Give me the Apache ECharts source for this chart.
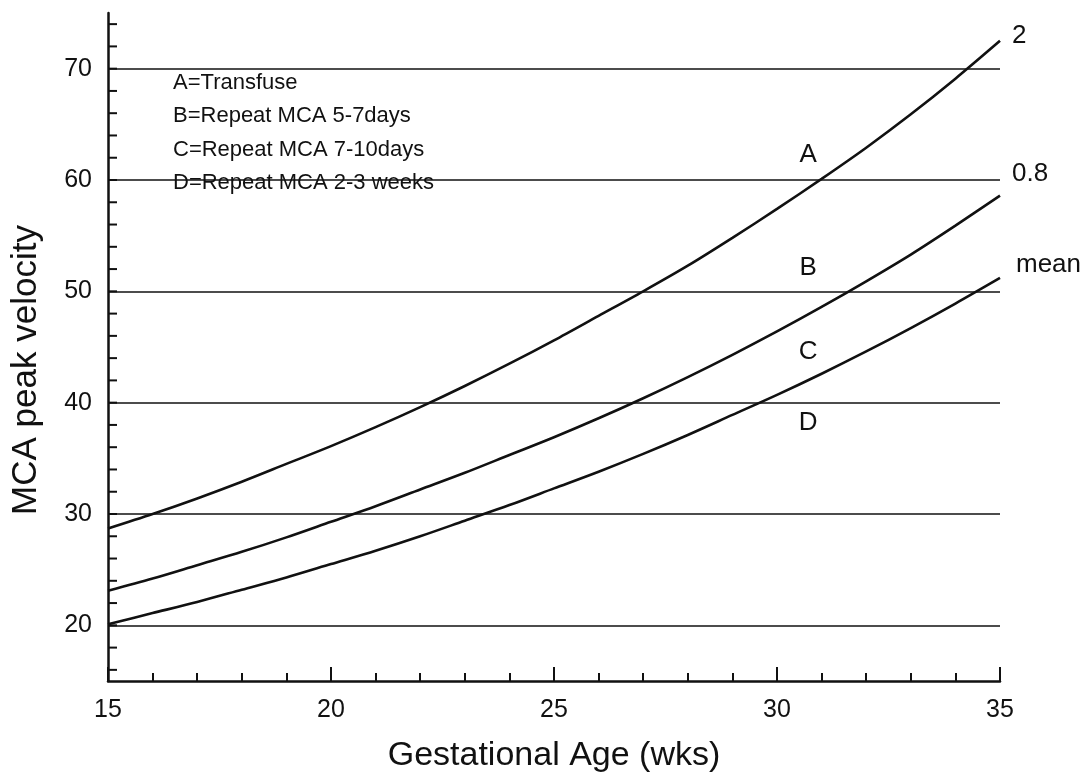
<!DOCTYPE html>
<html>
<head>
<meta charset="utf-8">
<script src="https://cdn.jsdelivr.net/npm/echarts@6/dist/echarts.min.js"></script>
<style>
  html, body { margin: 0; padding: 0; background: #ffffff; }
  #chart { width: 1088px; height: 778px; }
</style>
</head>
<body>
<div id="chart"></div>
<script>
// Gestational age (weeks)
const weeks = [15, 16, 17, 18, 19, 20, 21, 22, 23, 24, 25, 26, 27, 28, 29, 30, 31, 32, 33, 34, 35];
// Upper curve (labelled "2")
const curveTop = [28.7, 30.0, 31.4, 32.9, 34.5, 36.1, 37.8, 39.6, 41.5, 43.5, 45.6, 47.8, 50.0, 52.3, 54.8, 57.4, 60.1, 62.9, 65.9, 69.1, 72.5];
// Middle curve (labelled "0.8")
const curveMid = [23.1, 24.2, 25.4, 26.6, 27.9, 29.3, 30.7, 32.2, 33.7, 35.3, 36.9, 38.6, 40.4, 42.3, 44.3, 46.4, 48.6, 50.9, 53.3, 55.9, 58.6];
// Lower curve (labelled "mean")
const curveMean = [20.1, 21.1, 22.1, 23.2, 24.3, 25.5, 26.7, 28.0, 29.4, 30.8, 32.3, 33.8, 35.4, 37.1, 38.9, 40.7, 42.6, 44.6, 46.7, 48.9, 51.2];
const curveNames = ['2', '0.8', 'mean'];

// Horizontal reference lines
const gridValues = [20, 30, 40, 50, 60, 70];
// Y-axis small tick marks
const yTickValues = [16, 18, 20, 22, 24, 26, 28, 30, 32, 34, 36, 38, 40, 42, 44, 46, 48, 50, 52, 54, 56, 58, 60, 62, 64, 66, 68, 70, 72, 74];

// Zone letters
const zoneLetters = ['A', 'B', 'C', 'D'];
const zoneLetterX = [30.7, 30.7, 30.7, 30.7];
const zoneLetterY = [62.3, 52.1, 44.6, 38.2];

// Key text
const keyLines = ['A=Transfuse', 'B=Repeat MCA 5-7days', 'C=Repeat MCA 7-10days', 'D=Repeat MCA 2-3 weeks'];

const X_MIN = 15, X_MAX = 35, Y_MIN = 15, Y_MAX = 75;
const INK = '#111111';
const FONT = '"Liberation Sans", Arial, Helvetica, sans-serif';

const chart = echarts.init(document.getElementById('chart'), null, { renderer: 'canvas' });

function pairs(ys) { return weeks.map((w, i) => [w, ys[i]]); }

const endOffsets = [[4, -5], [4, -22], [8, -13]];
const curves = [curveTop, curveMid, curveMean];

const lineSeries = curves.map((c, i) => ({
  type: 'line',
  name: curveNames[i],
  data: pairs(c),
  smooth: 0.3,
  symbol: 'none',
  silent: true,
  lineStyle: { color: INK, width: 2.6 },
  endLabel: {
    show: true,
    formatter: curveNames[i],
    color: INK,
    fontSize: 26,
    fontFamily: FONT,
    offset: endOffsets[i]
  },
  z: 5
}));

const option = {
  backgroundColor: '#ffffff',
  animation: false,
  title: {
    text: keyLines.join('\n'),
    left: 168,
    top: 61,
    textStyle: { color: INK, fontSize: 22, fontWeight: 'normal', fontFamily: FONT, lineHeight: 33.5 }
  },
  grid: { left: 108, right: 88, top: 13, bottom: 96, containLabel: false },
  xAxis: {
    type: 'value',
    min: X_MIN, max: X_MAX, interval: 5,
    name: 'Gestational Age (wks)',
    nameLocation: 'middle',
    nameGap: 58,
    nameTextStyle: { color: INK, fontSize: 34, fontFamily: FONT },
    axisLine: { show: true, lineStyle: { color: INK, width: 2.5 } },
    axisTick: { show: true, inside: true, length: 14, lineStyle: { color: INK, width: 2 } },
    minorTick: { show: true, splitNumber: 5, length: 8, lineStyle: { color: INK, width: 2 } },
    axisLabel: { color: INK, fontSize: 25, fontFamily: FONT, margin: 17 },
    splitLine: { show: false },
    minorSplitLine: { show: false }
  },
  yAxis: {
    type: 'value',
    min: Y_MIN, max: Y_MAX, interval: 5,
    name: 'MCA peak velocity',
    nameLocation: 'middle',
    nameGap: 64,
    nameTextStyle: { color: INK, fontSize: 35, fontFamily: FONT, padding: [0, 46, 0, 0] },
    axisLine: { show: true, lineStyle: { color: INK, width: 2.5 } },
    axisTick: { show: false },
    axisLabel: {
      color: INK, fontSize: 25, fontFamily: FONT, margin: 16,
      formatter: v => (v % 10 === 0 ? String(v) : '')
    },
    splitLine: { show: false }
  },
  series: [
    {
      type: 'custom',
      name: 'yticks',
      silent: true,
      clip: false,
      data: yTickValues.map(v => [X_MIN, v]),
      renderItem: (params, api) => {
        const p = api.coord([api.value(0), api.value(1)]);
        return {
          type: 'line',
          shape: { x1: p[0], y1: p[1], x2: p[0] + 9, y2: p[1] },
          style: { stroke: INK, lineWidth: 2 }
        };
      },
      markLine: {
        silent: true,
        symbol: ['none', 'none'],
        label: { show: false },
        lineStyle: { color: INK, width: 1.7, type: 'solid', opacity: 1 },
        data: gridValues.map(v => ({ yAxis: v }))
      },
      z: 3
    },
    ...lineSeries,
    {
      type: 'scatter',
      name: 'zones',
      silent: true,
      symbolSize: 0,
      itemStyle: { opacity: 1 },
      data: zoneLetters.map((l, i) => ({ value: [zoneLetterX[i], zoneLetterY[i]], name: l })),
      label: {
        show: true,
        position: 'inside',
        formatter: p => p.name,
        color: INK,
        opacity: 1,
        fontSize: 26,
        fontFamily: FONT
      },
      z: 6
    }
  ]
};

chart.setOption(option);
</script>
</body>
</html>
